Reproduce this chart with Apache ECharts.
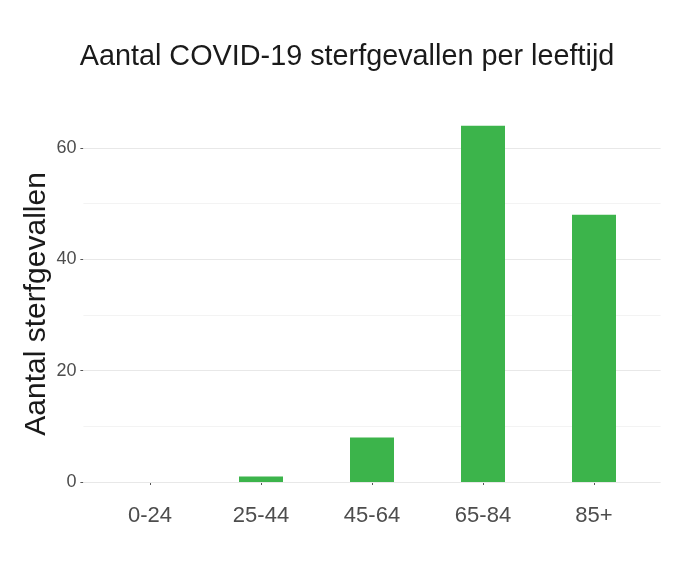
<!DOCTYPE html>
<html>
<head>
<meta charset="utf-8">
<script src="https://cdn.jsdelivr.net/npm/echarts@6/dist/echarts.min.js"></script>
<style>
  html, body { margin: 0; padding: 0; background: #fff; }
  #main { width: 694px; height: 566px; }
</style>
</head>
<body>
<div id="main"></div>
<script>
var categories = ['0-24', '25-44', '45-64', '65-84', '85+'];
var deaths = [0, 1, 8, 64, 48];
var yTicks = [0, 20, 40, 60];
var minorGrid = [10, 30, 50];
var xPositions = [1, 2, 3, 4, 5];

var font = '"Liberation Sans", Arial, sans-serif';
var chart = echarts.init(document.getElementById('main'));

// gridlines as markLines so they can reach the full panel width
var gridLines = [];
yTicks.forEach(function (v) {
  gridLines.push({ yAxis: v, lineStyle: { color: '#e8e8e8', width: 1.2, type: 'solid' } });
});
minorGrid.forEach(function (v) {
  gridLines.push({ yAxis: v, lineStyle: { color: '#f3f3f3', width: 1, type: 'solid' } });
});

var option = {
  animation: false,
  textStyle: { fontFamily: font },
  title: {
    text: 'Aantal COVID-19 sterfgevallen per leeftijd',
    left: 'center',
    top: 38,
    textStyle: { fontFamily: font, fontSize: 28.8, fontWeight: 'normal', color: '#1a1a1a' }
  },
  grid: { left: 83.4, right: 33.4, top: 108, bottom: 66.2, containLabel: false },
  xAxis: {
    type: 'value',
    min: 0.4,
    max: 5.6,
    axisLine: { show: false },
    splitLine: { show: false },
    axisTick: { show: true, length: 3, customValues: xPositions, lineStyle: { color: '#555' } },
    axisLabel: {
      customValues: xPositions,
      margin: 5,
      fontSize: 22,
      color: '#4d4d4d',
      fontFamily: font,
      formatter: function (v) { return categories[Math.round(v) - 1]; }
    }
  },
  yAxis: {
    type: 'value',
    min: -3.2,
    max: 67.2,
    name: 'Aantal sterfgevallen',
    nameLocation: 'middle',
    nameGap: 32,
    nameMoveOverlap: false,
    nameTextStyle: { fontFamily: font, fontSize: 30, color: '#1a1a1a' },
    axisLine: { show: false },
    splitLine: { show: false },
    axisTick: { show: true, length: 3, customValues: yTicks, lineStyle: { color: '#555' } },
    axisLabel: { customValues: yTicks, margin: 7, fontSize: 18, color: '#4d4d4d', fontFamily: font }
  },
  series: [{
    type: 'bar',
    z: 2,
    barWidth: 44,
    itemStyle: { color: '#3cb44b' },
    data: deaths.map(function (v, i) { return [xPositions[i], v]; }),
    markLine: {
      silent: true,
      z: 1,
      symbol: 'none',
      label: { show: false },
      data: gridLines
    }
  }]
};
chart.setOption(option);
</script>
</body>
</html>
